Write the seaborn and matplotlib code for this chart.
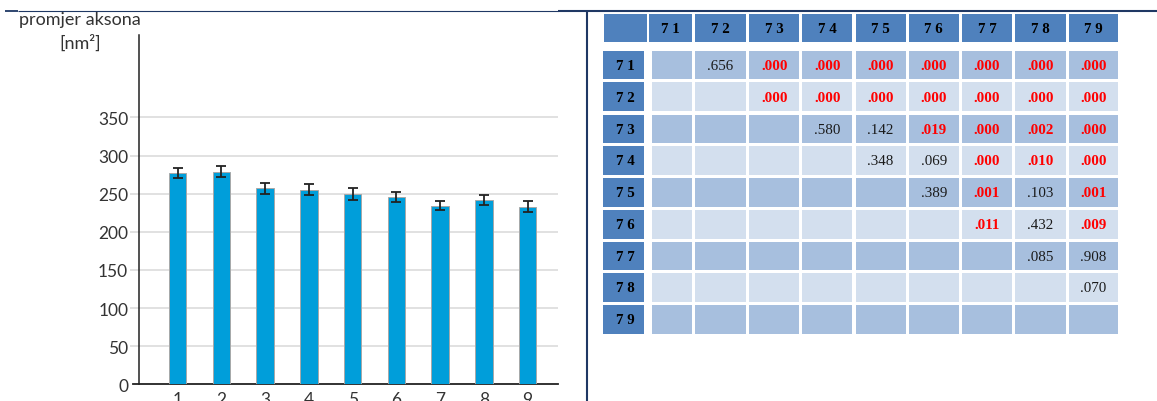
import matplotlib
matplotlib.use("Agg")
import matplotlib.pyplot as plt
from matplotlib.patches import Rectangle
import numpy as np
import pandas as pd
import seaborn as sns

# ---- bar chart: mean axon size per group ----
groups = ["1", "2", "3", "4", "5", "6", "7", "8", "9"]
mean_area = [277, 279, 257, 255, 250, 246, 234, 242, 233]
err_area = [7, 7, 7, 7, 8, 6.5, 6, 6.5, 7]
y_ticks = [0, 50, 100, 150, 200, 250, 300, 350]

# ---- pairwise comparison table (p-values, upper triangle) ----
table_labels = ["71", "72", "73", "74", "75", "76", "77", "78", "79"]
p_row_71 = [None, .656, .000, .000, .000, .000, .000, .000, .000]
p_row_72 = [None, None, .000, .000, .000, .000, .000, .000, .000]
p_row_73 = [None, None, None, .580, .142, .019, .000, .002, .000]
p_row_74 = [None, None, None, None, .348, .069, .000, .010, .000]
p_row_75 = [None, None, None, None, None, .389, .001, .103, .001]
p_row_76 = [None, None, None, None, None, None, .011, .432, .009]
p_row_77 = [None, None, None, None, None, None, None, .085, .908]
p_row_78 = [None, None, None, None, None, None, None, None, .070]
p_row_79 = [None, None, None, None, None, None, None, None, None]
p_values = [p_row_71, p_row_72, p_row_73, p_row_74, p_row_75,
            p_row_76, p_row_77, p_row_78, p_row_79]
alpha = 0.05

sns.set_theme(style="white")
plt.rcParams["font.family"] = ["Lato", "DejaVu Sans"]

W, H = 1157, 402
fig = plt.figure(figsize=(W / 100, H / 100), dpi=100)

# full-figure canvas in pixel units for frame lines and the table
canvas = fig.add_axes([0, 0, 1, 1], zorder=0)
canvas.set_xlim(0, W)
canvas.set_ylim(H, 0)
canvas.axis("off")

navy = "#1F3864"
canvas.plot([18, 558], [12, 12], color=navy, lw=0.8, solid_capstyle="butt")
canvas.plot([5, 18], [12, 12], color=navy, lw=1.3, solid_capstyle="butt")
canvas.plot([558, W], [12, 12], color=navy, lw=1.5, solid_capstyle="butt")
canvas.plot([587, 587], [12, H], color=navy, lw=1.5, solid_capstyle="butt")

# ---- bar chart axes ----
ax = fig.add_axes([133.3 / W, 1 - 385.3 / H, (558.3 - 133.3) / W, 349.3 / H], zorder=1)
ax.patch.set_alpha(0)
df = pd.DataFrame({"grupa": groups, "promjer": mean_area})
sns.barplot(data=df, x="grupa", y="promjer", color="#009EDA", saturation=1,
            width=0.4, edgecolor="#A8A8A8", linewidth=0.7, ax=ax, zorder=3)
ax.errorbar(np.arange(len(groups)), mean_area, yerr=err_area, fmt="none",
            ecolor="#222222", elinewidth=1.3, capsize=3.3, capthick=1.3, zorder=4)

x_lo, x_hi = -1.015, 8.70
spine_x = -0.878
ax.set_xlim(x_lo, x_hi)
ax.set_ylim(0, 458)
ax.hlines(y_ticks[1:], x_lo - 0.07, x_hi, color="#D9D9D9", lw=1.1, zorder=1,
          clip_on=False)
ax.set_yticks(y_ticks)
ax.set_xlabel("")
ax.set_ylabel("")
for side in ("top", "right"):
    ax.spines[side].set_visible(False)
ax.spines["left"].set_position(("data", spine_x))
ax.spines["left"].set_color("#222222")
ax.spines["bottom"].set_color("#222222")
ax.spines["left"].set_linewidth(1.1)
ax.spines["bottom"].set_linewidth(1.3)
ax.tick_params(axis="both", length=0, labelsize=12.5, labelcolor="#333333")
ax.tick_params(axis="y", pad=8.0)
ax.tick_params(axis="x", pad=4.5)

canvas.text(80, 20.5, "promjer aksona", ha="center", va="center",
            fontsize=13, color="#333333")
canvas.text(80, 43, "[nm²]", ha="center", va="center",
            fontsize=13, color="#333333")

# ---- table layout (pixels) ----
head_dark = "#4F81BD"
row_mid = "#A7BFDE"
row_light = "#D3DFEE"
col_left = [651.9, 695.2, 749.3, 802.1, 855.5, 908.9, 962.0, 1015.0, 1068.8]
col_right = [692.3, 745.7, 799.2, 852.2, 905.7, 958.7, 1011.8, 1065.6, 1118.3]
row_top = [51.7, 83.3, 115.5, 146.7, 179.2, 210.7, 242.7, 274.0, 306.0]
row_bot = [80.0, 111.7, 144.0, 175.7, 207.7, 240.0, 270.7, 302.7, 334.7]
head_top, head_bot = 15.0, 43.3
rowhead_l, rowhead_r = 603.0, 644.0
serif = ["Liberation Serif", "DejaVu Serif"]

# header row
canvas.add_patch(Rectangle((603.9, head_top), 646.5 - 603.9, head_bot - head_top,
                           color=head_dark, lw=0))
for j, lab in enumerate(table_labels):
    left = 649.3 if j == 0 else col_left[j]
    canvas.add_patch(Rectangle((left, head_top), col_right[j] - left,
                               head_bot - head_top, color=head_dark, lw=0))
    canvas.text((left + col_right[j]) / 2, (head_top + head_bot) / 2 + 0.5,
                " ".join(lab), ha="center", va="center", fontsize=10.8,
                fontweight="bold", family=serif, color="black")

# body rows
for i, lab in enumerate(table_labels):
    top, bot = row_top[i], row_bot[i]
    canvas.add_patch(Rectangle((rowhead_l, top), rowhead_r - rowhead_l, bot - top,
                               color=head_dark, lw=0))
    canvas.text(625, (top + bot) / 2 + 0.5, " ".join(lab), ha="center", va="center",
                fontsize=10.8, fontweight="bold", family=serif, color="black")
    fill = row_mid if i % 2 == 0 else row_light
    for j in range(len(table_labels)):
        canvas.add_patch(Rectangle((col_left[j], top), col_right[j] - col_left[j],
                                   bot - top, color=fill, lw=0))
        p = p_values[i][j]
        if p is None:
            continue
        sig = p < alpha
        canvas.text((col_left[j] + col_right[j]) / 2, (top + bot) / 2 + 0.5,
                    f"{p:.3f}"[1:], ha="center", va="center", fontsize=10.8,
                    family=serif, fontweight="bold" if sig else "normal",
                    color="#FF0000" if sig else "#1A1A1A")

fig.savefig("out.png", dpi=100, facecolor="white")
